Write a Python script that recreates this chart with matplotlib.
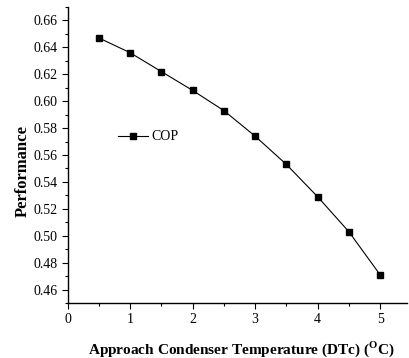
import matplotlib
matplotlib.use("Agg")
import matplotlib.pyplot as plt
from matplotlib.ticker import MultipleLocator

plt.rcParams['font.family'] = ['Liberation Serif', 'DejaVu Serif']
plt.rcParams['mathtext.fontset'] = 'custom'
plt.rcParams['mathtext.rm'] = 'Liberation Serif'
plt.rcParams['mathtext.bf'] = 'Liberation Serif:bold'

dtc = [0.5, 1.0, 1.5, 2.0, 2.5, 3.0, 3.5, 4.0, 4.5, 5.0]
cop = [0.647, 0.636, 0.622, 0.608, 0.593, 0.574, 0.553, 0.529, 0.503, 0.471]
xticks = [0, 1, 2, 3, 4, 5]
yticks = [0.46, 0.48, 0.50, 0.52, 0.54, 0.56, 0.58, 0.60, 0.62, 0.64, 0.66]

fig = plt.figure(figsize=(4.09, 3.58), dpi=100)
ax = fig.add_axes([0.1655, 0.1536, 0.995 - 0.1655, 0.9804 - 0.1536])
ax.plot(dtc, cop, color='black', lw=0.8, marker='s', markersize=5, label='COP')
ax.set_xlim(0, 5.43)
ax.set_ylim(0.45, 0.67)
ax.set_xticks(xticks)
ax.set_yticks(yticks)
ax.set_yticklabels([f"{v:.2f}" for v in yticks])
ax.xaxis.set_minor_locator(MultipleLocator(0.5))
ax.yaxis.set_minor_locator(MultipleLocator(0.01))
for s in ['top', 'right']:
    ax.spines[s].set_visible(False)
for s in ['left', 'bottom']:
    ax.spines[s].set_linewidth(1.0)
ax.tick_params(axis='both', which='major', direction='out', length=4, width=0.8, labelsize=10, pad=3)
ax.tick_params(axis='both', which='minor', direction='out', length=2.5, width=0.8)
ax.set_xlabel(r'Approach Condenser Temperature (DTc) ($^{\mathbf{O}}$C)', fontsize=11, fontweight='bold')
ax.set_ylabel('Performance', fontsize=12, fontweight='bold')
ax.xaxis.set_label_coords(0.512, -0.122)
ax.yaxis.set_label_coords(-0.108, 0.445)
ax.legend(loc='center left', bbox_to_anchor=(0.148, 0.561), frameon=False, fontsize=10,
          handlelength=2.2, handletextpad=0.2, borderpad=0, borderaxespad=0)
fig.savefig('out.png', dpi=100)
